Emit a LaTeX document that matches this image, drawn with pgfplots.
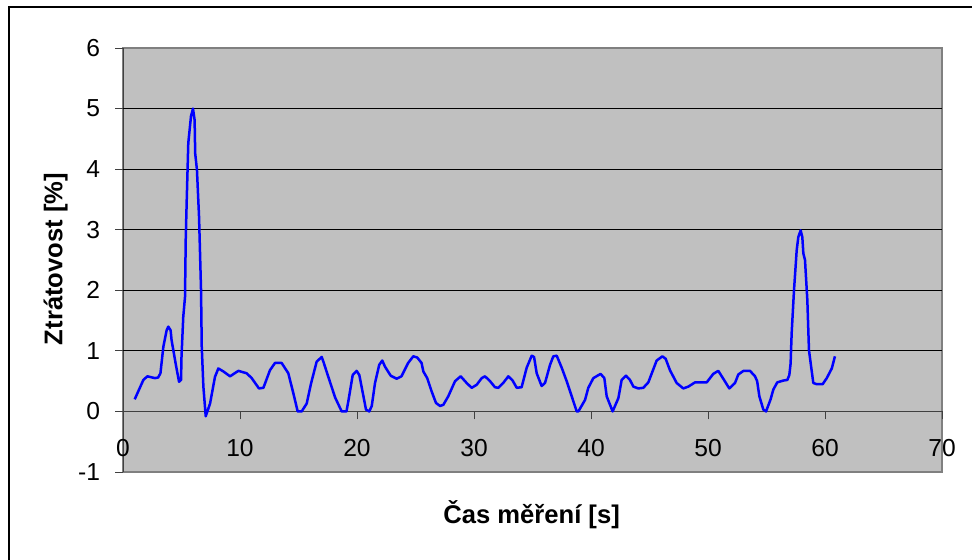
\documentclass[border=0pt]{standalone}
\usepackage{pgfplots}
\pgfplotsset{compat=1.18}
\usepackage{fontspec}
\setmainfont{Liberation Sans}
\definecolor{plotbg}{RGB}{192,192,192}
\definecolor{plotedge}{RGB}{128,128,128}
\definecolor{curve}{RGB}{0,0,255}

\pgfplotstableread{
t v
1.00 0.20
1.74 0.52
2.08 0.58
2.73 0.55
3.00 0.56
3.20 0.63
3.45 1.07
3.73 1.34
3.87 1.40
4.07 1.34
4.15 1.18
4.50 0.79
4.79 0.49
4.96 0.52
5.00 0.90
5.15 1.56
5.30 1.89
5.36 2.83
5.44 3.44
5.58 4.43
5.81 4.87
5.98 5.00
6.12 4.81
6.17 4.26
6.32 3.99
6.50 3.21
6.67 2.00
6.73 1.07
6.87 0.41
7.07 -0.08
7.44 0.13
7.86 0.57
8.15 0.71
8.58 0.66
9.15 0.58
9.86 0.67
10.57 0.63
11.00 0.55
11.62 0.38
12.00 0.39
12.56 0.68
12.99 0.80
13.56 0.80
14.13 0.63
14.56 0.30
14.93 0.00
15.27 0.00
15.70 0.13
16.07 0.46
16.55 0.82
16.98 0.90
17.13 0.82
17.55 0.57
18.13 0.23
18.69 0.00
19.10 0.00
19.26 0.17
19.63 0.60
19.97 0.67
20.20 0.60
20.55 0.25
20.77 0.03
21.05 0.00
21.26 0.09
21.54 0.47
21.90 0.77
22.16 0.84
22.39 0.74
22.88 0.59
23.39 0.54
23.80 0.58
24.37 0.80
24.81 0.91
25.15 0.89
25.52 0.80
25.67 0.66
26.00 0.55
26.38 0.33
26.75 0.14
27.10 0.09
27.38 0.11
27.80 0.25
28.38 0.50
28.86 0.58
29.37 0.47
29.80 0.39
30.23 0.44
30.66 0.55
30.94 0.58
31.37 0.50
31.79 0.40
32.08 0.39
32.50 0.47
32.93 0.58
33.30 0.51
33.65 0.39
34.07 0.40
34.50 0.72
34.93 0.92
35.13 0.90
35.36 0.63
35.78 0.42
36.07 0.47
36.50 0.77
36.78 0.91
37.07 0.92
37.50 0.72
37.92 0.50
38.35 0.25
38.78 0.00
38.92 0.00
39.49 0.19
39.77 0.39
40.20 0.55
40.82 0.62
41.14 0.55
41.34 0.25
41.85 0.00
42.34 0.22
42.62 0.52
42.99 0.59
43.33 0.52
43.62 0.41
44.04 0.38
44.47 0.39
44.90 0.48
45.61 0.84
46.10 0.91
46.38 0.87
46.75 0.68
47.32 0.47
47.89 0.38
48.32 0.41
48.89 0.48
49.89 0.48
50.45 0.62
50.88 0.67
51.37 0.52
51.82 0.38
52.31 0.47
52.59 0.61
53.03 0.67
53.59 0.67
54.02 0.58
54.20 0.50
54.39 0.25
54.73 0.03
54.96 0.00
55.35 0.20
55.58 0.36
55.92 0.48
56.44 0.51
56.78 0.52
56.95 0.60
57.06 0.79
57.15 1.29
57.35 2.00
57.58 2.66
57.72 2.88
57.92 2.99
58.06 2.88
58.15 2.61
58.29 2.50
58.49 1.84
58.63 1.01
58.78 0.79
59.00 0.47
59.29 0.45
59.80 0.45
60.15 0.55
60.58 0.71
60.85 0.91
}\lossdata

\begin{document}
\begin{tikzpicture}
\useasboundingbox (0,0) rectangle (486pt,279.5pt);
% outer chart frame
\draw[black, line width=0.6pt] (4.5pt,-10pt) -- (4.5pt,276pt) -- (500pt,276pt);
\begin{axis}[
  at={(61.5pt,43.5pt)}, anchor=south west,
  scale only axis, width=409.5pt, height=212pt,
  xmin=0, xmax=70, ymin=-1, ymax=6,
  axis x line=middle, axis y line=left,
  axis line style={-, black!75, line width=0.5pt},
  axis background/.style={fill=plotbg, draw=plotedge, line width=0.6pt},
  xtick={0,10,...,70}, ytick={-1,0,...,6},
  hide obscured x ticks=false,
  tick align=outside, major tick length=4pt,
  tick style={black!75, line width=0.5pt},
  extra y ticks={1,2,3,4,5}, extra y tick labels={},
  extra y tick style={grid=major, major tick length=0pt},
  grid style={black, line width=0.5pt},
  /pgf/number format/assume math mode=true,
  tick label style={font=\fontsize{12.3}{14}\selectfont},
  xticklabel style={yshift=-6.5pt},
  yticklabel style={xshift=-4pt},
  clip=false,
]
\addplot[curve, line width=1.25pt, line join=round] table[x=t, y=v] {\lossdata};
\end{axis}
\node[font=\bfseries\fontsize{12.8}{15}\selectfont, anchor=base] at (265.8pt,18pt) {Čas měření [s]};
\node[font=\bfseries\fontsize{12.8}{15}\selectfont, anchor=base, rotate=90] at (31.2pt,150pt) {Ztrátovost [\%]};
\end{tikzpicture}
\end{document}
